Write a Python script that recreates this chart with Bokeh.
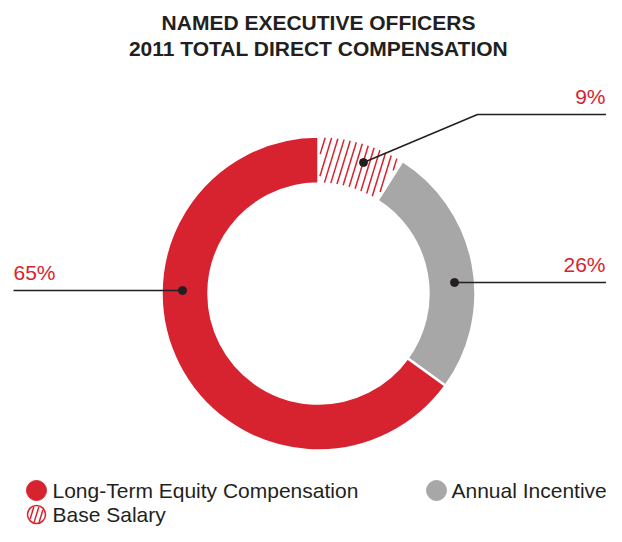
import math
import numpy as np
from bokeh.plotting import figure
from bokeh.models import Range1d, ColumnDataSource
from bokeh.core.properties import value
from bokeh.embed import file_html
from bokeh.resources import INLINE

# ---------------- data ----------------
categories = ["Base Salary", "Annual Incentive", "Long-Term Equity Compensation"]
shares = [9, 26, 65]
pct_labels = ["9%", "26%", "65%"]
title_lines = ["NAMED EXECUTIVE OFFICERS", "2011 TOTAL DIRECT COMPENSATION"]
legend_items = ["Long-Term Equity Compensation", "Annual Incentive", "Base Salary"]

# ---------------- style ----------------
RED = "#D7232F"
GRAY = "#A7A7A7"
DARK = "#231F20"
FONT = "Liberation Sans"

W, H = 606, 526
PAGE_H = 542


def Y(v):
    # page y (down) -> data y (up)
    return PAGE_H - v


p = figure(width=W, height=H, x_range=Range1d(0, W), y_range=Range1d(PAGE_H - H, PAGE_H),
           output_backend="svg", toolbar_location=None, min_border=0,
           x_axis_type=None, y_axis_type=None)
p.grid.visible = False
p.outline_line_color = None
p.background_fill_color = "white"
p.border_fill_color = "white"

# ---------------- donut ----------------
CX, CY = 318, Y(293)
R_IN, R_OUT = 110, 157

total = float(sum(shares))
fr = [s / total for s in shares]
cum0 = np.concatenate([[0.0], np.cumsum(fr)[:-1]])
cum1 = np.cumsum(fr)
starts = [math.pi / 2 - 2 * math.pi * c for c in cum0]
ends = [math.pi / 2 - 2 * math.pi * c for c in cum1]

fills = ["white", GRAY, RED]
src = ColumnDataSource(dict(x=[CX] * 3, y=[CY] * 3, start=starts, end=ends,
                            fill=fills, cat=categories))
p.annular_wedge(x="x", y="y", inner_radius=R_IN, outer_radius=R_OUT,
                start_angle="start", end_angle="end", direction="clock",
                fill_color="fill", line_color="white", line_width=2.5, source=src)


def hatch_lines(inside, cx, cy, half, angle_deg, hspacing):
    a = math.radians(angle_deg)
    d = (math.cos(a), math.sin(a))
    n = (-math.sin(a), math.cos(a))
    spacing = hspacing * math.sin(a)
    nlines = int(half * 1.5 / spacing) + 2
    t = np.linspace(-half * 1.5, half * 1.5, 3000)
    xs, ys = [], []
    for k in range(-nlines, nlines + 1):
        ox = cx + n[0] * k * spacing
        oy = cy + n[1] * k * spacing
        px = ox + d[0] * t
        py = oy + d[1] * t
        m = inside(px, py)
        if not m.any():
            continue
        idx = np.flatnonzero(m)
        breaks = np.flatnonzero(np.diff(idx) > 1)
        seg_starts = np.concatenate([[idx[0]], idx[breaks + 1]])
        seg_ends = np.concatenate([idx[breaks], [idx[-1]]])
        for s, e in zip(seg_starts, seg_ends):
            if e > s:
                xs.append([float(px[s]), float(px[e])])
                ys.append([float(py[s]), float(py[e])])
    return xs, ys


# hatched slice (Base Salary)
a_hi = starts[0]
a_lo = ends[0]


def in_base(px, py):
    r = np.hypot(px - CX, py - CY)
    th = np.arctan2(py - CY, px - CX)
    return (r >= R_IN + 1) & (r <= R_OUT - 1) & (th <= a_hi - 0.012) & (th >= a_lo + 0.02)


mid = (a_hi + a_lo) / 2
hx, hy = hatch_lines(in_base, CX + 133 * math.cos(mid), CY + 133 * math.sin(mid),
                     60, 73, 6.5)
p.multi_line(xs=hx, ys=hy, line_color=RED, line_width=1.5)

# ---------------- leader lines ----------------
lead_x = [[363, 477, W], [454, W], [13, 182]]
lead_y = [[Y(162), Y(114), Y(114)], [Y(282), Y(282)], [Y(290), Y(290)]]
p.multi_line(xs=lead_x, ys=lead_y, line_color=DARK, line_width=1.5)
p.scatter(x=[363, 454, 182], y=[Y(162), Y(282), Y(290)], size=8,
          fill_color=DARK, line_color=DARK)

# percent labels (y = cap centre)
p.text(x=[W - 1, W - 1, 13], y=[Y(96), Y(264), Y(272)], text=pct_labels,
       text_align=["right", "right", "left"], text_baseline="middle",
       text_color=RED, text_font=value(FONT), text_font_size="21px")

# ---------------- title ----------------
p.text(x=[318, 318], y=[Y(22), Y(48)], text=title_lines,
       text_align="center", text_baseline="middle",
       text_color=DARK, text_font=value(FONT), text_font_size="21px",
       text_font_style="bold")

# ---------------- legend ----------------
ROW1, ROW2 = 490, 514
GX = 436
p.scatter(x=[36, GX], y=[Y(ROW1), Y(ROW1)], size=20,
          fill_color=[RED, GRAY], line_color=[RED, GRAY])
LX, LY, LR = 36, Y(ROW2), 9.5
p.scatter(x=[LX], y=[LY], size=2 * LR - 1, fill_color="white", line_color=RED,
          line_width=1.5)


def in_icon(px, py):
    return np.hypot(px - LX, py - LY) <= LR - 1.5


ix, iy = hatch_lines(in_icon, LX, LY, 12, 73, 5.0)
p.multi_line(xs=ix, ys=iy, line_color=RED, line_width=1.5)

p.text(x=[52, GX + 15, 52], y=[Y(ROW1), Y(ROW1), Y(ROW2)], text=legend_items,
       text_align="left", text_baseline="middle",
       text_color=DARK, text_font=value(FONT), text_font_size="21px")

open("out.html", "w").write(file_html(p, INLINE))
